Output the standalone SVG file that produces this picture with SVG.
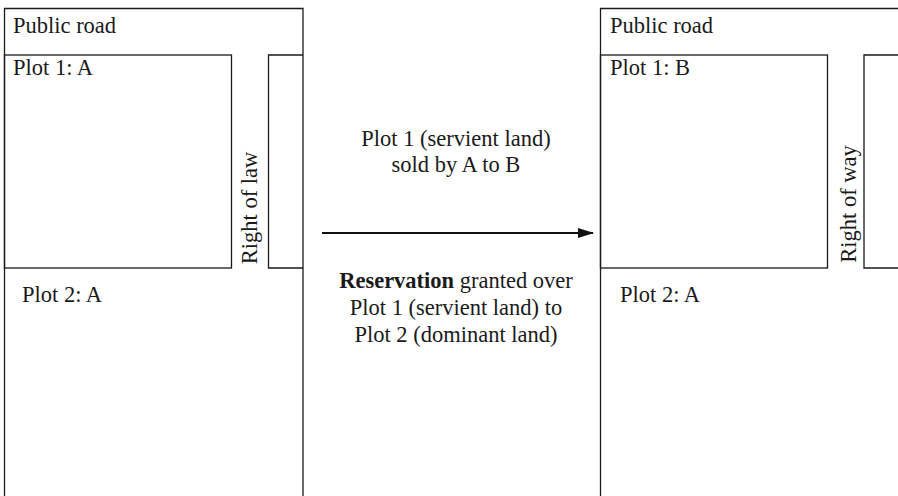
<svg xmlns="http://www.w3.org/2000/svg" width="898" height="496" viewBox="0 0 898 496">
  <style>
    .ln { fill: none; stroke: #1a1a1a; stroke-width: 1.3; }
    .t { font-family: "Liberation Serif", "Times New Roman", serif; font-size: 22.5px; fill: #1a1a1a; }
    .c { text-anchor: middle; }
    .b { font-weight: bold; }
  </style>
  <defs>
    <marker id="head" markerWidth="16" markerHeight="10" refX="15" refY="5" orient="auto" markerUnits="userSpaceOnUse">
      <path d="M0,0 L16,5 L0,10 Z" fill="#111"/>
    </marker>
  </defs>

  <!-- Before the sale -->
  <g id="before">
    <path class="ln" d="M4.5,496 V8.5 H303 V496"/>
    <text class="t" x="13" y="33">Public road</text>
    <g id="before-plot1">
      <rect class="ln" x="4.5" y="55" width="227" height="213"/>
      <text class="t" x="13" y="75">Plot 1: A</text>
    </g>
    <g id="before-way">
      <path class="ln" d="M303,55 H268.5 V268 H303"/>
      <text class="t c" transform="translate(257,208) rotate(-90)">Right of law</text>
    </g>
    <text class="t" x="22" y="302">Plot 2: A</text>
  </g>

  <!-- After the sale -->
  <g id="after">
    <path class="ln" d="M600.5,496 V8.5 H898"/>
    <text class="t" x="610" y="33">Public road</text>
    <g id="after-plot1">
      <rect class="ln" x="600.5" y="55" width="227" height="213"/>
      <text class="t" x="610" y="75">Plot 1: B</text>
    </g>
    <g id="after-way">
      <path class="ln" d="M898,55 H864 V268 H898"/>
      <text class="t c" transform="translate(856,204) rotate(-90)">Right of way</text>
    </g>
    <text class="t" x="620" y="302">Plot 2: A</text>
  </g>

  <!-- Transfer -->
  <g id="connectors">
    <line x1="322" y1="233" x2="593" y2="233" stroke="#111" stroke-width="2" marker-end="url(#head)"/>
  </g>
  <g id="transfer-labels">
    <text class="t c" x="456" y="146">Plot 1 (servient land)</text>
    <text class="t c" x="456" y="172">sold by A to B</text>
    <text class="t c" x="456" y="288"><tspan class="b">Reservation</tspan> granted over</text>
    <text class="t c" x="456" y="315">Plot 1 (servient land) to</text>
    <text class="t c" x="456" y="342">Plot 2 (dominant land)</text>
  </g>
</svg>
